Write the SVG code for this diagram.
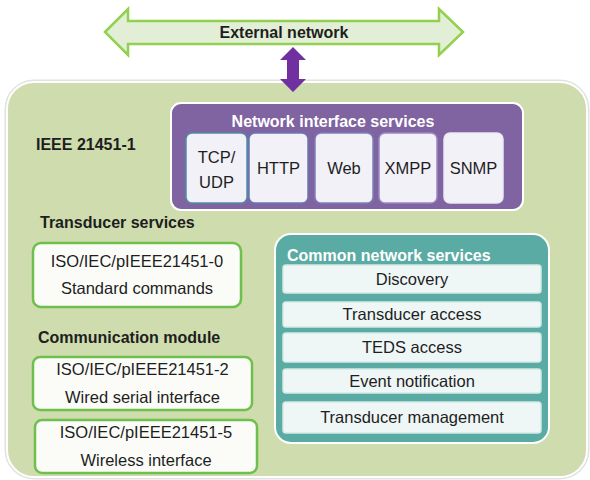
<svg xmlns="http://www.w3.org/2000/svg" width="590" height="480" viewBox="0 0 590 480">
<style>
text{font-family:"Liberation Sans",Arial,sans-serif;font-size:16.5px;fill:#1e1e1e}
.b{font-weight:bold;font-size:16px}
.c{text-anchor:middle}
.w{fill:#ffffff}
.proto{fill:#f3f1f8;stroke-width:1.5}
.std{fill:#fbfcf8;stroke:#6fbf4e;stroke-width:2.5}
.row{fill:#eef6f6;stroke:#d4eae8;stroke-width:1.5}
</style>
<rect width="590" height="480" fill="#ffffff"/>
<g id="external-network">
<path d="M105,32 L128,9 L128,21 L439,21 L439,9 L463,32 L439,55 L439,44 L128,44 L128,55 Z" fill="#e2efd6" stroke="#92d050" stroke-width="2.5" stroke-linejoin="miter"/>
<text class="b c" x="284" y="38">External network</text>
</g>
<g id="ieee-21451-1">
<rect x="6" y="81" width="582" height="397" rx="28" fill="none" stroke="#e2e2e2" stroke-width="3"/>
<rect x="7" y="82" width="580" height="395" rx="27" fill="#cedcae" stroke="#ffffff" stroke-width="2"/>
<text class="b" x="36" y="150">IEEE 21451-1</text>
</g>
<g id="network-interface-services">
<rect x="171" y="103" width="352" height="107" rx="10" fill="#8063a1" stroke="#ffffff" stroke-width="2"/>
<text class="b c w" x="333" y="127">Network interface services</text>
</g>
<g id="tcp-udp">
<rect class="proto" x="186" y="133" width="61" height="70" rx="6" stroke="#4f8fa6"/>
<text class="c" x="216.5" y="163">TCP/</text>
<text class="c" x="216.5" y="188">UDP</text>
</g>
<g id="http">
<rect class="proto" x="249" y="133" width="59" height="70" rx="6" stroke="#6a78b4"/>
<text class="c" x="278.5" y="174">HTTP</text>
</g>
<g id="web">
<rect class="proto" x="315" y="133" width="58" height="70" rx="6" stroke="#7a82bb"/>
<text class="c" x="344" y="174">Web</text>
</g>
<g id="xmpp">
<rect class="proto" x="379" y="133" width="58" height="70" rx="6" stroke="#9a88c0"/>
<text class="c" x="408" y="174">XMPP</text>
</g>
<g id="snmp">
<rect class="proto" x="444" y="133" width="59" height="70" rx="6" stroke="#ece8f3"/>
<text class="c" x="473.5" y="174">SNMP</text>
</g>
<g id="transducer-services">
<text class="b" x="40" y="228">Transducer services</text>
<rect class="std" x="33" y="243" width="208" height="64" rx="8" stroke="#a6d27f"/>
<text class="c" x="137" y="267">ISO/IEC/pIEEE21451-0</text>
<text class="c" x="137" y="294">Standard commands</text>
</g>
<g id="communication-module">
<text class="b" x="38" y="343">Communication module</text>
</g>
<g id="wired-serial">
<rect class="std" x="33" y="357" width="219" height="53" rx="7"/>
<text class="c" x="142.5" y="375">ISO/IEC/pIEEE21451-2</text>
<text class="c" x="142.5" y="403">Wired serial interface</text>
</g>
<g id="wireless">
<rect class="std" x="35" y="420" width="222" height="53" rx="7"/>
<text class="c" x="146" y="438">ISO/IEC/pIEEE21451-5</text>
<text class="c" x="146" y="466">Wireless interface</text>
</g>
<g id="common-network-services">
<rect x="275" y="234" width="274" height="209" rx="16" fill="#5aaba3" stroke="#ffffff" stroke-width="2"/>
<text class="b w" x="287" y="261">Common network services</text>
</g>
<g id="discovery">
<rect class="row" x="283" y="265" width="258" height="28" rx="3" stroke="#7cc35a"/>
<text class="c" x="412" y="285">Discovery</text>
</g>
<g id="transducer-access">
<rect class="row" x="283" y="302" width="258" height="25" rx="3" stroke="#a3d488"/>
<text class="c" x="412" y="320">Transducer access</text>
</g>
<g id="teds-access">
<rect class="row" x="283" y="333" width="258" height="29" rx="3"/>
<text class="c" x="412" y="353">TEDS access</text>
</g>
<g id="event-notification">
<rect class="row" x="283" y="369" width="258" height="24" rx="3"/>
<text class="c" x="412" y="387">Event notification</text>
</g>
<g id="transducer-management">
<rect class="row" x="283" y="402" width="258" height="31" rx="3"/>
<text class="c" x="412" y="423">Transducer management</text>
</g>
<g id="connectors">
<path d="M293,47 L306,60 L299,60 L299,79 L306,79 L293,92 L280,79 L287,79 L287,60 L280,60 Z" fill="#7030a0"/>
</g>
</svg>
